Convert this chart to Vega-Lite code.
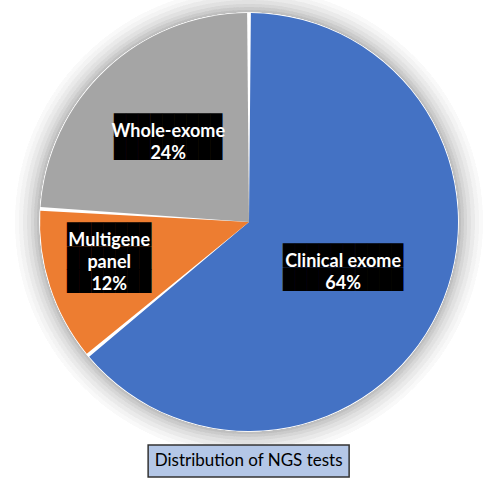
{
  "$schema": "https://vega.github.io/schema/vega-lite/v6.json",
  "padding": 0,
  "background": "white",
  "spacing": 0,
  "center": true,
  "config": {"view": {"stroke": null}},
  "vconcat": [
    {
      "width": 498,
      "height": 444,
      "data": {
        "values": [
          {"test": "Clinical exome", "share": 64, "label": ["Clinical exome", "64%"]},
          {"test": "Multigene panel", "share": 12, "label": ["Multigene", "panel", "12%"]},
          {"test": "Whole-exome", "share": 24, "label": ["Whole-exome", "24%"]}
        ]
      },
      "layer": [
        {"mark": {"type": "arc", "outerRadius": 234, "fill": "#707070", "opacity": 0.01, "clip": true}, "encoding": {}},
        {"mark": {"type": "arc", "outerRadius": 230, "fill": "#707070", "opacity": 0.015, "clip": true}, "encoding": {}},
        {"mark": {"type": "arc", "outerRadius": 226, "fill": "#707070", "opacity": 0.02, "clip": true}, "encoding": {}},
        {"mark": {"type": "arc", "outerRadius": 222, "fill": "#707070", "opacity": 0.025, "clip": true}, "encoding": {}},
        {"mark": {"type": "arc", "outerRadius": 218, "fill": "#707070", "opacity": 0.03, "clip": true}, "encoding": {}},
        {"mark": {"type": "arc", "outerRadius": 215, "fill": "#707070", "opacity": 0.035, "clip": true}, "encoding": {}},
        {"mark": {"type": "arc", "outerRadius": 212, "fill": "#707070", "opacity": 0.045, "clip": true}, "encoding": {}},
        {"mark": {"type": "arc", "outerRadius": 209.5, "fill": "white", "opacity": 1}, "encoding": {}},
        {
          "mark": {"type": "arc", "outerRadius": 209, "padAngle": 0.018},
          "encoding": {
            "theta": {"field": "share", "type": "quantitative", "stack": true},
            "order": {"field": "test", "type": "nominal", "sort": "ascending"},
            "color": {
              "field": "test",
              "type": "nominal",
              "scale": {"domain": ["Clinical exome", "Multigene panel", "Whole-exome"], "range": ["#4472C4", "#ED7D31", "#A5A5A5"]},
              "legend": null
            }
          }
        },
        {
          "mark": {
            "type": "text",
            "font": "DejaVu Sans Mono",
            "fontSize": 20,
            "lineHeight": 23.3,
            "fill": "black",
            "align": "center",
            "baseline": "middle",
            "radius": {"expr": "datum.test === 'Multigene panel' ? 147 : datum.test === 'Whole-exome' ? 118 : 104"},
            "dy": {"expr": "datum.test === 'Multigene panel' ? -32 : -10"}
          },
          "encoding": {
            "theta": {"field": "share", "type": "quantitative", "stack": true},
            "order": {"field": "test", "type": "nominal", "sort": "ascending"},
            "detail": {"field": "test", "type": "nominal"},
            "text": {
              "condition": [
                {"test": "datum.test === 'Multigene panel'", "value": ["███████", "███████", "███████"]},
                {"test": "datum.test === 'Whole-exome'", "value": ["█████████", "█████████"]}
              ],
              "value": ["██████████", "██████████"]
            }
          }
        },
        {
          "mark": {
            "type": "text",
            "font": "Lato",
            "fontWeight": "bold",
            "fontSize": 18,
            "lineHeight": 22,
            "fill": "white",
            "align": "center",
            "baseline": "middle",
            "radius": {"expr": "datum.test === 'Multigene panel' ? 147 : datum.test === 'Whole-exome' ? 118 : 104"},
            "dy": {"expr": "datum.test === 'Multigene panel' ? -26 : -4"}
          },
          "encoding": {
            "theta": {"field": "share", "type": "quantitative", "stack": true},
            "order": {"field": "test", "type": "nominal", "sort": "ascending"},
            "detail": {"field": "test", "type": "nominal"},
            "text": {"field": "label"}
          }
        }
      ]
    },
    {
      "width": 201,
      "height": 32,
      "view": {"fill": "#B4C7E7", "stroke": "#333333", "strokeWidth": 1.5},
      "data": {"values": [{"caption": "Distribution of NGS tests"}]},
      "mark": {"type": "text", "font": "Lato", "fontSize": 17, "fill": "black", "align": "center", "baseline": "middle"},
      "encoding": {"text": {"field": "caption"}}
    }
  ]
}
